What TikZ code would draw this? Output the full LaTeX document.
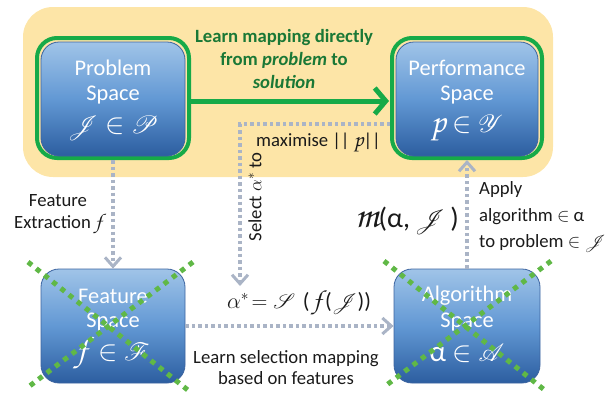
\documentclass[tikz,border=0pt]{standalone}
\usepackage{fix-cm}
\usepackage{fontspec}
\setmainfont{Carlito}
\newfontfamily\chorus{texgyrechorus-mediumitalic.otf}
\usepackage{mathrsfs}
\usetikzlibrary{arrows.meta,calc}

\definecolor{panel}{RGB}{253,229,167}
\definecolor{fgreen}{RGB}{22,170,72}
\definecolor{tgreen}{RGB}{26,120,54}
\definecolor{xgreen}{RGB}{96,184,70}
\definecolor{btop}{RGB}{160,196,232}
\definecolor{bmid}{RGB}{98,152,212}
\definecolor{bbot}{RGB}{44,94,160}
\definecolor{bborder}{RGB}{60,100,160}
\definecolor{lgray}{RGB}{170,180,198}
\definecolor{ink}{RGB}{26,26,26}

\newcommand{\scr}[1]{$\mathscr{#1}$}
\newcommand{\lsc}[1]{{\chorus #1}}

\tikzset{
  frame/.style={draw=fgreen, line width=4pt, rounded corners=20pt, inner sep=0pt},
  bluebox/.style={draw=bborder, line width=0.8pt, rounded corners=18pt,
    top color=btop, bottom color=bbot, middle color=bmid, inner sep=0pt},
  boxtxt/.style={text=white, font=\fontsize{22.4pt}{26pt}\selectfont, inner sep=0pt},
  boxmath/.style={text=white, font=\fontsize{29pt}{30pt}\selectfont, inner sep=0pt},
  txt/.style={text=ink, font=\fontsize{18.7pt}{22.4pt}\selectfont, inner sep=0pt, align=center},
  grayarrow/.style={draw=lgray, line width=3.5pt, dash pattern=on 3.5pt off 3pt,
    -{Straight Barb[length=9pt,width=16pt,line width=3pt]}},
  greenarrow/.style={draw=fgreen, line width=5pt,
    -{Straight Barb[length=11pt,width=26pt,line width=5pt]}},
  crossdots/.style={draw=xgreen, line width=5pt, dash pattern=on 5pt off 5.5pt},
}

\begin{document}
\begin{tikzpicture}[x=1pt,y=-1pt]
\useasboundingbox (0,0) rectangle (606,394);

% shaded panel behind the two top spaces
\fill[panel, rounded corners=30pt] (23,7) rectangle (553,177);

% top row: framed spaces
\node[frame, minimum width=152pt, minimum height=120pt] (probframe) at (113,98) {};
\node[bluebox, minimum width=144pt, minimum height=114pt] (prob) at (113,99) {};
\node[frame, minimum width=150pt, minimum height=120pt] (perfframe) at (467,98) {};
\node[bluebox, minimum width=142pt, minimum height=114pt] (perf) at (467,99) {};

% bottom row
\node[bluebox, minimum width=144pt, minimum height=114pt] (feat) at (113,326) {};
\node[bluebox, minimum width=146pt, minimum height=114pt] (alg) at (467,326) {};

% box captions
\node[boxtxt] (probA) at ($(prob)+(0,-31)$) {Problem};
\node[boxtxt] (probB) at ($(prob)+(0,-4)$) {Space};
\node[boxmath] (probC) at ($(prob)+(0,29)$) {\scr{J} $\in$ \scr{P}};

\node[boxtxt] (perfA) at ($(perf)+(0,-31)$) {Performance};
\node[boxtxt] (perfB) at ($(perf)+(0,-4)$) {Space};
\node[boxmath] (perfC) at ($(perf)+(0,29)$) {{\fontsize{34pt}{34pt}\chorus p} $\in$ \scr{Y}};

\node[boxtxt] (featA) at ($(feat)+(0,-30)$) {Feature};
\node[boxtxt] (featB) at ($(feat)+(0,-4)$) {Space};
\node[boxmath] (featC) at ($(feat)+(0,27)$) {{\fontsize{34pt}{34pt}\chorus f}\, $\in$ \scr{F}};

\node[boxtxt] (algA) at ($(alg)+(0,-30)$) {Algorithm};
\node[boxtxt] (algB) at ($(alg)+(0,-4)$) {Space};
\node[boxmath] (algC) at ($(alg)+(0,27)$) {α $\in$ $\mathscr{A}$};

% connectors
\draw[greenarrow] ($(probframe.east)+(0,3)$) -- ($(perfframe.west)+(-1,3)$);
\draw[grayarrow] (probframe.south) -- (feat.north);
\coordinate (selcorner) at (240,124);
\coordinate (selend) at (240,286);
\draw[grayarrow] (perfframe.west |- selcorner) -- (selcorner) -- (selend);
\draw[grayarrow] (alg.north) -- (perfframe.south);
\draw[grayarrow] (feat.east) -- (alg.west);

% crossed-out lower spaces
\draw[crossdots] (28,262) -- (189,391);
\draw[crossdots] (193,262) -- (27,388);
\draw[crossdots] (384,261) -- (547,392);
\draw[crossdots] (551,261) -- (384,387);

% labels
\node[txt, text=tgreen, font=\fontsize{18.7pt}{23pt}\selectfont\bfseries] (direct) at (284,59)
  {Learn mapping directly\\from \textit{problem} to\\\textit{solution}};
\node[txt, anchor=west] (maxlab) at (256,142) {maximise || {\fontsize{22pt}{22pt}\chorus p}||};
\node[txt, rotate=90] (sellab) at (255,197) {Select $\alpha^{*}$ to};
\node[txt, align=center] (fextr) at (58,214) {Feature\\Extraction {\fontsize{21pt}{21pt}\chorus f}};
\node[txt, anchor=east, font=\fontsize{28pt}{30pt}\selectfont] (mlab) at (459,221)
  {{\fontsize{38pt}{38pt}\chorus m}(α,\,\scr{J}\,)};
\node[txt, anchor=west, align=left, font=\fontsize{18.7pt}{26.5pt}\selectfont] (apply) at (479,217)
  {Apply\\algorithm $\in$ α\\to problem $\in$ \scr{J}};
\node[txt, font=\fontsize{22pt}{26pt}\selectfont] (selmap) at (299,303)
  {$\alpha^{*}\!=\mathscr{S}$\,\,(\,{\fontsize{26pt}{26pt}\chorus f}\,(\scr{J}))};
\node[txt, font=\fontsize{18.7pt}{21pt}\selectfont] (learnsel) at (286,368)
  {Learn selection mapping\\based on features};
\end{tikzpicture}
\end{document}
